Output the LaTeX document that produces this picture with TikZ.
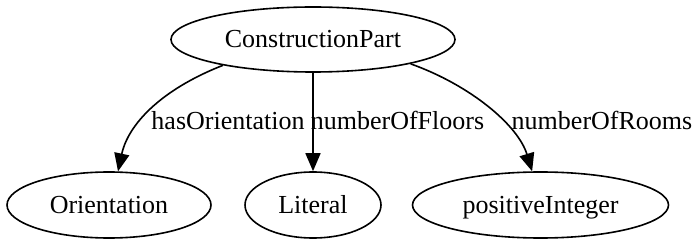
\documentclass[tikz,border=0pt]{standalone}
\usepackage{fontspec}
\setmainfont{Liberation Serif}
\usetikzlibrary{shapes.geometric,arrows.meta}
\begin{document}
\begin{tikzpicture}[x=1pt,y=1pt,
  every node/.style={font=\fontsize{26}{30}\selectfont},
  cls/.style={ellipse,draw,line width=1.6pt,inner sep=0pt,text height=22pt,text depth=6pt},
  rel/.style={line width=1.6pt,-{Triangle[length=18pt,width=15pt]}},
  lbl/.style={anchor=base,inner sep=0pt}]
\useasboundingbox (0,0) rectangle (700,246);
\node[cls,minimum width=284pt,minimum height=65pt] (cp) at (313,206.5) {ConstructionPart};
\node[cls,minimum width=204pt,minimum height=66pt] (or) at (109,41) {Orientation};
\node[cls,minimum width=136pt,minimum height=66pt] (lit) at (313,41) {Literal};
\node[cls,minimum width=256pt,minimum height=66pt] (pi) at (540.5,41) {positiveInteger};
\draw[rel] (cp.196) .. controls (160,156) and (128,121) .. (or.75);
\draw[rel] (cp) -- (lit);
\draw[rel] (cp.346) .. controls (470,161) and (518,121) .. (pi.104);
\node[lbl] (l1) at (228,116) {hasOrientation};
\node[lbl] (l2) at (397.5,116) {numberOfFloors};
\node[lbl] (l3) at (602,116) {numberOfRooms};
\end{tikzpicture}
\end{document}
